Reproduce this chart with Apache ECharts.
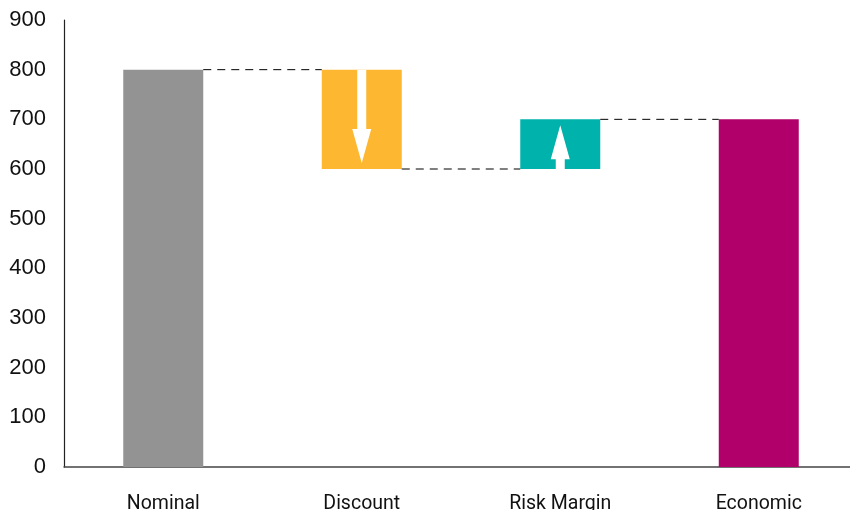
<!DOCTYPE html>
<html>
<head>
<meta charset="utf-8">
<script src="https://cdn.jsdelivr.net/npm/echarts@6/dist/echarts.min.js"></script>
<style>
html,body{margin:0;padding:0;background:#fff;}
#chart{width:850px;height:510px;}
</style>
</head>
<body>
<div id="chart"></div>
<script>
// Waterfall: starting value, two adjustments, resulting value
const categories = ['Nominal', 'Discount', 'Risk Margin', 'Economic'];
const changes = [800, -200, 100, null];   // null = running total bar
const barColors = ['#939393', '#FDB731', '#00B2AC', '#B1006A'];
const yTicks = [0, 100, 200, 300, 400, 500, 600, 700, 800, 900];

// Derive base (invisible) and visible segments from the running total
const baseVals = [];
const barVals = [];
const spans = []; // [low, high, start, end] per category
let running = 0;
changes.forEach((c, i) => {
  if (c === null) {
    baseVals.push(0);
    barVals.push(running);
    spans.push([0, running, 0, running]);
  } else if (i === 0) {
    running = c;
    baseVals.push(0);
    barVals.push(c);
    spans.push([0, c, 0, c]);
  } else {
    const start = running;
    running += c;
    baseVals.push(Math.min(start, running));
    barVals.push(Math.abs(c));
    spans.push([Math.min(start, running), Math.max(start, running), start, running]);
  }
});

// Connector lines between neighbouring bars at the level carried over
const connectors = [];
for (let i = 0; i < categories.length - 1; i++) {
  connectors.push([i, spans[i][3]]);
}

// Arrows for the adjustment bars, from start level to end level
const arrows = [];
changes.forEach((c, i) => {
  if (i > 0 && c !== null) arrows.push([i, spans[i][2], spans[i][3]]);
});

const chart = echarts.init(document.getElementById('chart'));
const BAR_W = 80;

chart.setOption({
  animation: false,
  grid: {
    left: 64, width: 794, top: 20, bottom: 43,
    containLabel: false, outerBoundsMode: 'none'
  },
  xAxis: {
    type: 'category',
    data: categories,
    axisLine: { lineStyle: { color: '#444', width: 1.5 } },
    axisTick: { show: false },
    axisLabel: {
      color: '#111', fontSize: 19.5, margin: 27,
      fontFamily: 'Roboto, sans-serif'
    }
  },
  yAxis: {
    type: 'value',
    min: 0, max: 900, interval: 100,
    axisLine: { show: true, lineStyle: { color: '#222', width: 1.2 } },
    axisTick: { show: false },
    splitLine: { show: false },
    axisLabel: {
      color: '#111', fontSize: 22, margin: 18,
      fontFamily: '"Liberation Sans", Arial, sans-serif',
      formatter: v => (yTicks.indexOf(v) >= 0 ? String(v) : '')
    }
  },
  series: [
    {
      type: 'bar', stack: 'wf', barWidth: BAR_W,
      data: baseVals,
      itemStyle: { color: 'transparent' },
      silent: true
    },
    {
      type: 'bar', stack: 'wf', barWidth: BAR_W,
      data: barVals.map((v, i) => ({ value: v, itemStyle: { color: barColors[i] } }))
    },
    {
      type: 'custom',
      data: connectors,
      z: 5,
      renderItem: (params, api) => {
        const i = api.value(0);
        const lvl = api.value(1);
        const p1 = api.coord([i, lvl]);
        const p2 = api.coord([i + 1, lvl]);
        const half = BAR_W / 2;
        return {
          type: 'line',
          shape: { x1: p1[0] + half, y1: p1[1], x2: p2[0] - half, y2: p2[1] },
          style: { stroke: '#000', lineWidth: 1, lineDash: [8, 6] }
        };
      }
    },
    {
      type: 'custom',
      data: arrows,
      z: 6,
      renderItem: (params, api) => {
        const i = api.value(0);
        const from = api.coord([i, api.value(1)]);
        const to = api.coord([i, api.value(2)]);
        const x = from[0];
        const dir = to[1] > from[1] ? 1 : -1;   // 1 = pointing down on screen
        const tipY = to[1] - dir * 6;
        const headLen = 34;
        const headHalf = 9.5;
        const shaftHalf = 4.5;
        const neckY = tipY - dir * headLen;
        const pts = [
          [x - shaftHalf, from[1]],
          [x - shaftHalf, neckY],
          [x - headHalf, neckY],
          [x, tipY],
          [x + headHalf, neckY],
          [x + shaftHalf, neckY],
          [x + shaftHalf, from[1]]
        ];
        return {
          type: 'polygon',
          shape: { points: pts },
          style: { fill: '#fff' }
        };
      }
    }
  ]
});
</script>
</body>
</html>
